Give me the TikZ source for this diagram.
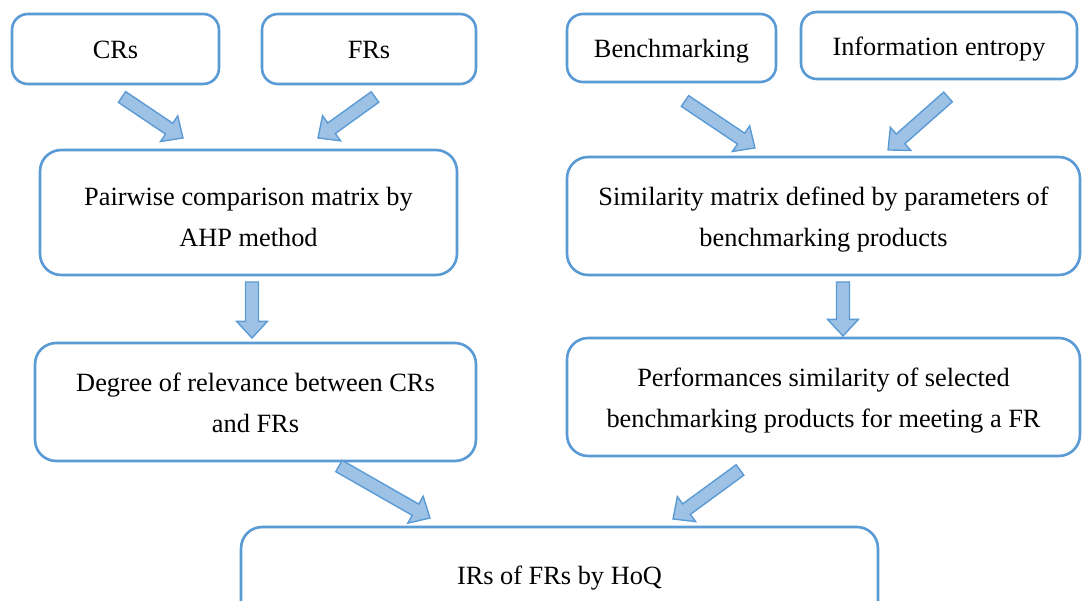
\documentclass[tikz,border=0pt]{standalone}
\usepackage{fontspec}
\setmainfont{Liberation Serif}
\usetikzlibrary{calc}

\definecolor{boxblue}{RGB}{91,155,213}
\definecolor{arrowfill}{RGB}{158,193,230}

% block arrow from #1 to #2
\newcommand{\blockarrow}[2]{%
  \path[draw=boxblue,line width=0.8pt,fill=arrowfill,line join=miter]
    let \p1=(#1), \p2=(#2),
        \n1={atan2(\y2-\y1,\x2-\x1)},
        \n2={veclen(\x2-\x1,\y2-\y1)} in
    [shift={(\p1)},rotate=\n1]
    (0pt,-3.7pt) -- ({\n2-9.5pt},-3.7pt) -- ({\n2-9.5pt},-8.8pt) -- ({\n2*1pt},0pt)
    -- ({\n2-9.5pt},8.8pt) -- ({\n2-9.5pt},3.7pt) -- (0pt,3.7pt) -- cycle;}

\begin{document}
\begin{tikzpicture}[x=0.02cm,y=-0.02cm,
                    font=\fontsize{15}{23.3}\selectfont]
      \tikzstyle{box}=[draw=boxblue,line width=1.5pt,rounded corners=9pt,
                       align=center,inner sep=0pt,text height=11pt,text depth=0pt]
      \tikzstyle{bigbox}=[box,rounded corners=12pt,text height=35pt]

      \useasboundingbox (0,0) rectangle (1083,601);
      \clip (0,0) rectangle (1083,601);

      \node[box,minimum width=4.14cm,minimum height=1.40cm] (CR) at (115.5,49) {CRs};
      \node[box,minimum width=4.28cm,minimum height=1.40cm] (FR) at (369,49)   {FRs};
      \node[box,minimum width=4.18cm,minimum height=1.36cm] (BM) at (671.5,48) {Benchmarking};
      \node[box,minimum width=5.52cm,minimum height=1.34cm] (IE) at (939,45.5) {Information entropy};

      \node[bigbox,text height=38.5pt,minimum width=8.34cm,minimum height=2.50cm] (PC) at (248.5,212.5)
           {Pairwise comparison matrix by\\AHP method};
      \node[bigbox,minimum width=10.26cm,minimum height=2.36cm] (SM) at (823.5,216)
           {Similarity matrix defined by parameters of\\benchmarking products};
      \node[bigbox,minimum width=8.82cm,minimum height=2.36cm] (DR) at (255.5,402)
           {Degree of relevance between CRs\\and FRs};
      \node[bigbox,minimum width=10.26cm,minimum height=2.36cm] (PS) at (823.5,397)
           {Performances similarity of selected\\benchmarking products for meeting a FR};
      \node[bigbox,text height=11pt,minimum width=12.74cm,minimum height=1.92cm] (IR) at (559.5,575)
           {IRs of FRs by HoQ};

      \coordinate (a1) at (122,97);  \coordinate (b1) at (183,138);
      \coordinate (a2) at (375,97);  \coordinate (b2) at (318,138);
      \coordinate (a3) at (685,101); \coordinate (b3) at (755,148);
      \coordinate (a4) at (948,97);  \coordinate (b4) at (888,150);
      \coordinate (a5) at (252,282); \coordinate (b5) at (252,338);
      \coordinate (a6) at (843,282); \coordinate (b6) at (843,336);
      \coordinate (a7) at (339,466); \coordinate (b7) at (430,518);
      \coordinate (a8) at (740,470); \coordinate (b8) at (673,519);

      \foreach \i in {1,...,8} {\blockarrow{a\i}{b\i}}

\end{tikzpicture}
\end{document}
